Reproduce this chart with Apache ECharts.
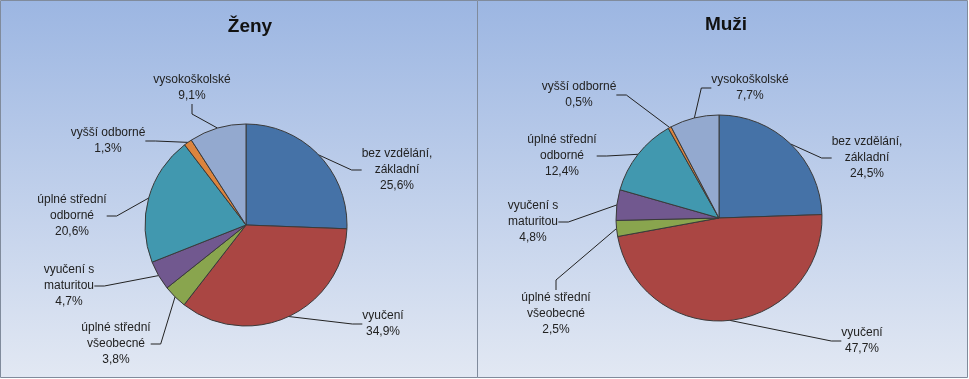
<!DOCTYPE html>
<html>
<head>
<meta charset="utf-8">
<script src="https://cdn.jsdelivr.net/npm/echarts@6/dist/echarts.min.js"></script>
<style>
html,body{margin:0;padding:0;background:#fff;}
#chart{width:969px;height:379px;}
</style>
</head>
<body>
<div id="chart"></div>
<script>
// ---- data ----
const categories = [
  'bez vzdělání, základní',
  'vyučení',
  'úplné střední všeobecné',
  'vyučení s maturitou',
  'úplné střední odborné',
  'vyšší odborné',
  'vysokoškolské'
];
const labelLines = [
  'bez vzdělání,\nzákladní',
  'vyučení',
  'úplné střední\nvšeobecné',
  'vyučení s\nmaturitou',
  'úplné střední\nodborné',
  'vyšší odborné',
  'vysokoškolské'
];
const zenyValues = [25.6, 34.9, 3.8, 4.7, 20.6, 1.3, 9.1];
const muziValues = [24.5, 47.7, 2.5, 4.8, 12.4, 0.5, 7.7];
const titles = ['Ženy', 'Muži'];

// ---- style / layout ----
const colors = ['#4572A7', '#AA4643', '#89A54E', '#71588F', '#4198AF', '#DB843D', '#93A9CF'];
const labelPosZeny = [[397,170],[383,324],[116,344],[69,286],[72,216],[108,141],[192,88]];
const labelPosMuzi = [[867,158],[862,341],[556,314],[533,222],[562,156],[579,95],[750,88]];

function fmt(v){ return v.toFixed(1).replace('.', ',') + '%'; }

function makeSeries(values, center, radius, labelPos){
  return {
    type: 'pie',
    center: center,
    radius: radius,
    startAngle: 90,
    clockwise: true,
    animation: false,
    avoidLabelOverlap: false,
    itemStyle: { borderColor: '#3a3a3a', borderWidth: 1 },
    label: {
      show: true,
      color: '#222',
      fontFamily: 'Liberation Sans, Arial, sans-serif',
      fontSize: 12,
      lineHeight: 16,
      align: 'center',
      formatter: p => labelLines[p.dataIndex] + '\n' + fmt(p.value)
    },
    labelLine: { show: true, length: 10, length2: 10, lineStyle: { color: '#222', width: 1 } },
    labelLayout: p => ({ x: labelPos[p.dataIndex][0], y: labelPos[p.dataIndex][1], align: 'center', verticalAlign: 'middle' }),
    emphasis: { disabled: true },
    data: categories.map((c, i) => ({ name: c, value: values[i], itemStyle: { color: colors[i] } }))
  };
}

const grad = () => new echarts.graphic.LinearGradient(0, 0, 0, 1, [
  { offset: 0, color: '#9cb6e2' },
  { offset: 1, color: '#e2e8f3' }
]);

const chart = echarts.init(document.getElementById('chart'), null, { renderer: 'canvas' });
chart.setOption({
  backgroundColor: '#ffffff',
  graphic: [
    { type: 'rect', shape: { x: 0.5, y: 0.5, width: 477, height: 377 }, style: { fill: grad(), stroke: '#808b9c', lineWidth: 1 }, z: -10 },
    { type: 'rect', shape: { x: 477.5, y: 0.5, width: 490, height: 377 }, style: { fill: grad(), stroke: '#808b9c', lineWidth: 1 }, z: -10 }
  ],
  title: [
    { text: titles[0], left: 245, top: 12, textAlign: 'center', textStyle: { fontFamily: 'Liberation Sans, Arial, sans-serif', fontSize: 19, fontWeight: 'bold', color: '#111' } },
    { text: titles[1], left: 721, top: 10, textAlign: 'center', textStyle: { fontFamily: 'Liberation Sans, Arial, sans-serif', fontSize: 19, fontWeight: 'bold', color: '#111' } }
  ],
  series: [
    makeSeries(zenyValues, [246, 225], 101, labelPosZeny),
    makeSeries(muziValues, [719, 218], 103, labelPosMuzi)
  ]
});
</script>
</body>
</html>
